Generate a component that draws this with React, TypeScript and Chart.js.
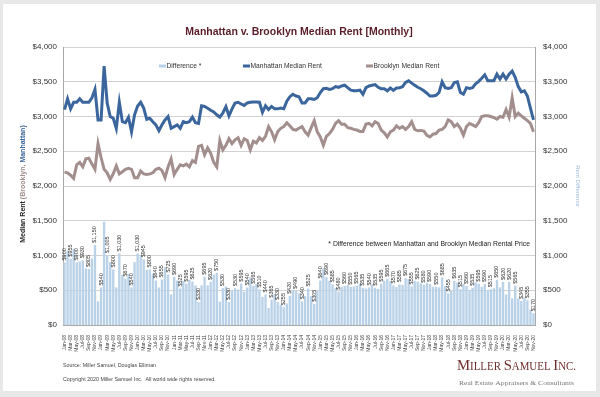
import { useEffect, useRef } from "react";
import { Chart, registerables } from "chart.js";

Chart.register(...registerables);

const monthNames = ["Jan", "Feb", "Mar", "Apr", "May", "Jun", "Jul", "Aug", "Sep", "Oct", "Nov", "Dec"];
const yearCodes = ["08", "09", "10", "11", "12", "13", "14", "15", "16", "17", "18", "19", "20"];
const lastMonthCount = 11; // data ends Nov-20

const categories: string[] = [];
yearCodes.forEach((yy, yi) => {
  monthNames.forEach((m, mi) => {
    if (yi === yearCodes.length - 1 && mi >= lastMonthCount) return;
    categories.push(`${m}-${yy}`);
  });
});

const manhattan = [
  3100, 3255, 3110, 3205, 3205, 3255, 3205, 3205, 3205, 3270,
  3390, 2950, 2950, 3725, 3195, 3000, 2975, 2830, 3205, 2925,
  2910, 2990, 2780, 3025, 3150, 3205, 3120, 2960, 2975, 2925,
  2880, 2795, 2880, 2950, 3000, 2830, 2855, 2880, 2830, 2925,
  2910, 2925, 2990, 2910, 2900, 3155, 3145, 3120, 3090, 3065,
  3025, 2990, 3050, 3140, 3010, 3110, 3195, 3205, 3180, 3160,
  3195, 3205, 3210, 3210, 3205, 3060, 3155, 3100, 3145, 3110,
  3110, 3120, 3110, 3220, 3285, 3320, 3295, 3285, 3195, 3195,
  3255, 3255, 3245, 3270, 3345, 3400, 3405, 3390, 3400, 3430,
  3420, 3440, 3450, 3415, 3380, 3370, 3370, 3380, 3320, 3415,
  3440, 3450, 3460, 3420, 3400, 3400, 3370, 3410, 3375, 3410,
  3415, 3430, 3490, 3515, 3480, 3450, 3420, 3400, 3370, 3335,
  3295, 3295, 3305, 3345, 3500, 3415, 3405, 3415, 3490, 3500,
  3345, 3320, 3415, 3405, 3415, 3470, 3505, 3550, 3600, 3515,
  3515, 3515, 3610, 3540, 3610, 3540, 3610, 3655, 3565, 3430,
  3355, 3370, 3295, 3120, 2950,
];

const brooklyn = [
  2200, 2190, 2155, 2110, 2305, 2340, 2275, 2390, 2400, 2315,
  2240, 2610, 2410, 2240, 2190, 2095, 2175, 2290, 2175, 2205,
  2240, 2255, 2240, 2120, 2120, 2215, 2175, 2165, 2175, 2190,
  2240, 2255, 2225, 2120, 2275, 2390, 2165, 2240, 2305, 2290,
  2315, 2275, 2365, 2340, 2570, 2585, 2450, 2550, 2470, 2340,
  2275, 2655, 2520, 2585, 2680, 2610, 2665, 2695, 2585, 2680,
  2655, 2520, 2645, 2620, 2695, 2655, 2715, 2855, 2780, 2665,
  2780, 2830, 2855, 2910, 2865, 2815, 2805, 2830, 2855, 2780,
  2730, 2840, 2940, 2780, 2705, 2585, 2715, 2755, 2815, 2900,
  2940, 2890, 2890, 2840, 2830, 2815, 2805, 2785, 2785, 2890,
  2900, 2865, 2925, 2900, 2805, 2765, 2705, 2780, 2805, 2865,
  2830, 2855, 2815, 2855, 2925, 2815, 2795, 2800, 2790, 2730,
  2705, 2745, 2755, 2805, 2815, 2855, 2950, 2925, 2855, 2890,
  2830, 2730, 2855, 2900, 2880, 2855, 2910, 3000, 3010, 3010,
  3000, 2985, 2960, 3000, 2990, 3100, 2990, 3270, 3000, 3050,
  3010, 2975, 2940, 2900, 2780,
];

const difference = [
  900, 1065, 955, 1095, 900, 915, 930, 815, 805, 955,
  1150, 340, 540, 1485, 1005, 905, 800, 540, 1030, 720,
  670, 735, 540, 905, 1030, 990, 945, 795, 800, 735,
  640, 540, 655, 830, 725, 440, 690, 640, 525, 635,
  595, 650, 625, 570, 330, 570, 695, 570, 620, 725,
  750, 335, 530, 555, 330, 500, 530, 510, 595, 480,
  540, 685, 565, 590, 510, 405, 440, 245, 365, 445,
  330, 290, 255, 310, 420, 505, 490, 455, 340, 415,
  525, 415, 305, 490, 640, 815, 690, 635, 585, 530,
  480, 550, 560, 575, 550, 555, 565, 595, 535, 525,
  540, 585, 535, 520, 595, 635, 665, 630, 570, 545,
  585, 575, 675, 660, 555, 635, 625, 600, 580, 605,
  590, 550, 550, 540, 685, 560, 455, 490, 635, 610,
  515, 590, 560, 505, 535, 615, 595, 550, 590, 505,
  515, 530, 650, 540, 620, 440, 620, 385, 565, 380,
  345, 395, 355, 220, 170,
];

const yTickValues = [0, 500, 1000, 1500, 2000, 2500, 3000, 3500, 4000];

const TITLE = "Manhattan v. Brooklyn Median Rent [Monthly]";
const LEGEND_LABELS = ["Difference *", "Manhattan Median Rent", "Brooklyn Median Rent"];
const NOTE = "* Difference between Manhattan and Brooklyn Median Rental Price";
const SOURCE = "Source: Miller Samuel, Douglas Elliman";
const COPYRIGHT = "Copyright 2020 Miller Samuel Inc.  All world wide rights reserved.";
const LOGO_WORDS = ["Miller", "Samuel", "Inc."];
const TAGLINE = "Real Estate Appraisers & Consultants";

const SANS = '"Liberation Sans", Arial, Helvetica, sans-serif';
const SERIF = '"Liberation Serif", "Times New Roman", serif';

const C_MAN = "#3a669d";
const C_BK = "#a38e8e";
const C_DIFF = "#bad2e8";
const C_DIFF_TEXT = "#9dbcdc";

const fmt = (v: number) => "$" + v.toLocaleString("en-US");

const barLabelPlugin = {
  id: "barLabels",
  afterDatasetsDraw(chart: any) {
    const meta = chart.getDatasetMeta(0);
    const ctx = chart.ctx as CanvasRenderingContext2D;
    ctx.save();
    ctx.font = `5.5px ${SANS}`;
    ctx.fillStyle = "#333";
    ctx.textAlign = "left";
    ctx.textBaseline = "middle";
    meta.data.forEach((el: any, i: number) => {
      if (i % 2 !== 0) return;
      ctx.save();
      ctx.translate(el.x, el.y - 2);
      ctx.rotate(-Math.PI / 2);
      ctx.fillText(fmt(difference[i]), 0, 0);
      ctx.restore();
    });
    ctx.restore();
  },
};

const decorPlugin = {
  id: "decor",
  beforeDraw(chart: any) {
    const ctx = chart.ctx as CanvasRenderingContext2D;
    ctx.save();
    ctx.fillStyle = "#e8e8e8";
    ctx.fillRect(0, 0, chart.width, chart.height);
    ctx.fillStyle = "#ffffff";
    ctx.fillRect(3, 4, chart.width - 7, chart.height - 10);
    ctx.restore();
  },
  afterDraw(chart: any) {
    const ctx = chart.ctx as CanvasRenderingContext2D;
    ctx.save();
    // title
    ctx.font = `bold 10.5px ${SANS}`;
    ctx.fillStyle = "#5a1d2b";
    ctx.textAlign = "center";
    ctx.textBaseline = "middle";
    ctx.fillText(TITLE, 299, 32);

    // legend
    const legendColors = [C_DIFF, C_MAN, C_BK];
    const legendX = [159, 243, 366];
    ctx.font = `6.7px ${SANS}`;
    ctx.textAlign = "left";
    LEGEND_LABELS.forEach((t, i) => {
      ctx.fillStyle = legendColors[i];
      ctx.fillRect(legendX[i], 64.5, 7, 3);
      ctx.fillStyle = "#333";
      ctx.fillText(t, legendX[i] + 7.5, 66.3);
    });

    // note
    ctx.font = `6.8px ${SANS}`;
    ctx.textAlign = "right";
    ctx.fillStyle = "#222";
    ctx.fillText(NOTE, 530, 244.5);

    // left axis title (multi-coloured)
    ctx.save();
    ctx.translate(23, 184);
    ctx.rotate(-Math.PI / 2);
    ctx.font = `bold 7px ${SANS}`;
    const parts: [string, string][] = [
      ["Median Rent ", "#222"],
      ["(Brooklyn, ", C_BK],
      ["Manhattan)", C_MAN],
    ];
    const total = parts.reduce((s, p) => s + ctx.measureText(p[0]).width, 0);
    let px = -total / 2;
    ctx.textAlign = "left";
    parts.forEach(([t, c]) => {
      ctx.fillStyle = c;
      ctx.fillText(t, px, 0);
      px += ctx.measureText(t).width;
    });
    ctx.restore();

    // right axis title
    ctx.save();
    ctx.translate(578, 186);
    ctx.rotate(Math.PI / 2);
    ctx.font = `6px ${SANS}`;
    ctx.textAlign = "center";
    ctx.fillStyle = C_DIFF_TEXT;
    ctx.fillText("Rent Difference", 0, 0);
    ctx.restore();

    // footer
    ctx.font = `5.3px ${SANS}`;
    ctx.textAlign = "left";
    ctx.fillStyle = "#444";
    ctx.fillText(SOURCE, 63, 366);
    ctx.fillText(COPYRIGHT, 63, 380);

    // logo (small caps)
    ctx.textBaseline = "alphabetic";
    ctx.fillStyle = "#6e2c2c";
    const big = `15.5px ${SERIF}`;
    const small = `11.5px ${SERIF}`;
    const pieces: [string, string][] = [];
    LOGO_WORDS.forEach((w, wi) => {
      pieces.push([w[0].toUpperCase(), big]);
      pieces.push([w.slice(1).toUpperCase() + (wi < LOGO_WORDS.length - 1 ? " " : ""), small]);
    });
    let lw = 0;
    pieces.forEach(([t, f]) => {
      ctx.font = f;
      lw += ctx.measureText(t).width;
    });
    ctx.save();
    ctx.translate(457, 370);
    ctx.scale(119 / lw, 1);
    let lx = 0;
    pieces.forEach(([t, f]) => {
      ctx.font = f;
      ctx.fillText(t, lx, 0);
      lx += ctx.measureText(t).width;
    });
    ctx.restore();

    ctx.font = `7px ${SERIF}`;
    ctx.fillStyle = "#777";
    const tw = ctx.measureText(TAGLINE).width;
    ctx.save();
    ctx.translate(459, 385);
    ctx.scale(115 / tw, 1);
    ctx.fillText(TAGLINE, 0, 0);
    ctx.restore();

    ctx.restore();
  },
};

export default function App() {
  const ref = useRef<HTMLCanvasElement>(null);
  useEffect(() => {
    document.body.style.margin = "0";
    const canvas = ref.current!;
    const chart = new Chart(canvas, {
      type: "bar",
      data: {
        labels: categories,
        datasets: [
          {
            type: "bar",
            label: LEGEND_LABELS[0],
            data: difference,
            backgroundColor: C_DIFF,
            borderWidth: 0,
            barPercentage: 0.78,
            categoryPercentage: 1,
            yAxisID: "y1",
            order: 3,
          } as any,
          {
            type: "line",
            label: LEGEND_LABELS[1],
            data: manhattan,
            borderColor: C_MAN,
            backgroundColor: C_MAN,
            borderWidth: 3,
            pointRadius: 0,
            tension: 0,
            yAxisID: "y",
            order: 1,
          },
          {
            type: "line",
            label: LEGEND_LABELS[2],
            data: brooklyn,
            borderColor: C_BK,
            backgroundColor: C_BK,
            borderWidth: 3,
            pointRadius: 0,
            tension: 0,
            yAxisID: "y",
            order: 2,
          },
        ],
      },
      options: {
        responsive: false,
        animation: false,
        devicePixelRatio: 1,
        layout: { padding: { top: 47, left: 0, right: 0, bottom: 0 } },
        plugins: {
          legend: { display: false },
          tooltip: { enabled: false },
          title: { display: false },
        },
        scales: {
          x: {
            grid: { display: false },
            border: { display: true, color: "#a8a8a8" },
            ticks: {
              autoSkip: false,
              maxRotation: 90,
              minRotation: 90,
              padding: 2,
              color: "#444",
              font: { size: 5, family: SANS },
              callback: (_v: any, i: number) => (i % 2 === 0 ? categories[i] : ""),
            },
            afterFit: (s: any) => {
              s.height = 72;
            },
          },
          y: {
            position: "left",
            min: 0,
            max: 4000,
            afterBuildTicks: (s: any) => {
              s.ticks = yTickValues.map((v) => ({ value: v }));
            },
            grid: { color: "#d2d2d2", drawTicks: false },
            border: { display: true, color: "#a8a8a8" },
            ticks: {
              padding: 6,
              color: "#333",
              font: { size: 8, family: SANS },
              callback: (v: any) => fmt(Number(v)),
            },
            afterFit: (s: any) => {
              s.width = 63;
            },
          },
          y1: {
            position: "right",
            min: 0,
            max: 4000,
            afterBuildTicks: (s: any) => {
              s.ticks = yTickValues.map((v) => ({ value: v }));
            },
            grid: { display: false, drawTicks: false },
            border: { display: true, color: "#a8a8a8" },
            ticks: {
              padding: 8,
              color: "#333",
              font: { size: 8, family: SANS },
              callback: (v: any) => fmt(Number(v)),
            },
            afterFit: (s: any) => {
              s.width = 65;
            },
          },
        },
      },
      plugins: [decorPlugin, barLabelPlugin],
    });
    return () => chart.destroy();
  }, []);

  return (
    <div style={{ position: "relative", width: 600, height: 397 }}>
      <canvas ref={ref} width={600} height={397} style={{ display: "block", width: 600, height: 397 }} />
    </div>
  );
}
